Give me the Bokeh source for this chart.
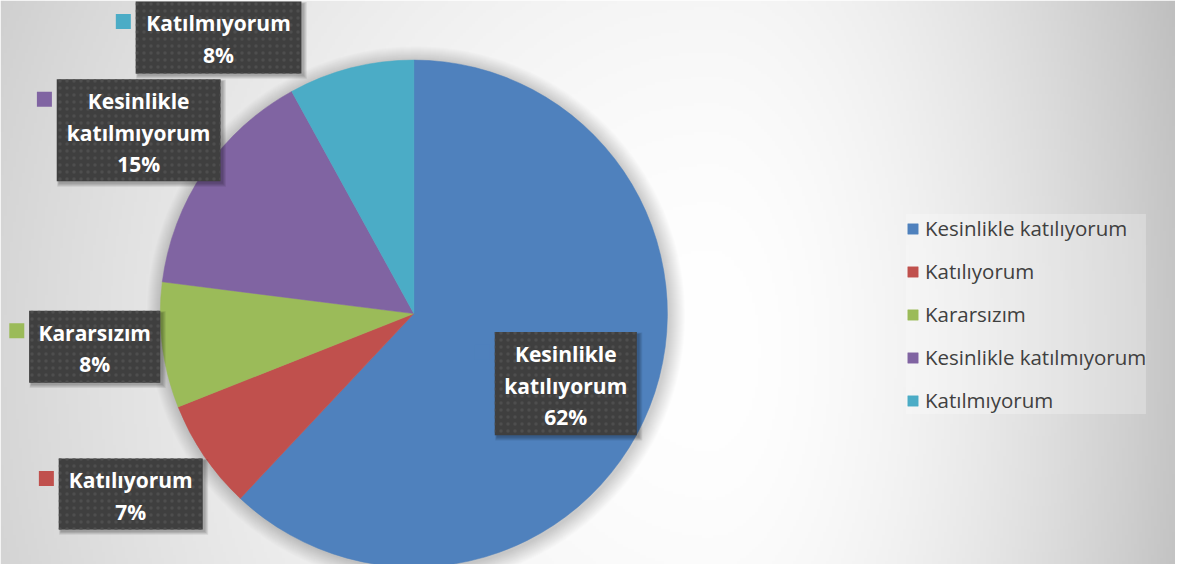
import numpy as np
from bokeh.plotting import figure
from bokeh.models import Range1d, ColumnDataSource, Legend, LegendItem
from bokeh.core.properties import value
from bokeh.embed import file_html
from bokeh.resources import INLINE

# ---------------- data ----------------
categories = ["Kesinlikle katılıyorum", "Katılıyorum", "Kararsızım",
              "Kesinlikle katılmıyorum", "Katılmıyorum"]
percents = [62, 7, 8, 15, 8]
label_first_lines = [["Kesinlikle", "katılıyorum"], ["Katılıyorum"], ["Kararsızım"],
                     ["Kesinlikle", "katılmıyorum"], ["Katılmıyorum"]]

# ---------------- style / layout ----------------
colors = ["#4F81BD", "#C0504D", "#9BBB59", "#8064A2", "#4BACC6"]
W, H = 1175, 564
RW, RH = 1191, 580   # reference-pixel extent
def Y(ry):           # reference y (down) -> data y (up)
    return RH - ry

CX, CY, R = 419, Y(322), 257
# label boxes (left, top, right, bottom) in reference px
boxes = [(501, 341, 645, 447), (59, 471, 205, 544), (29, 319, 162, 393),
         (57, 81, 223, 186), (137, 1, 305, 75)]
LINE_GAP = 32.5
LBL_FONT = "Open Sans"
LEG_FONT = "Open Sans"

p = figure(width=W, height=H, x_range=Range1d(0, RW), y_range=Range1d(0, RH),
           output_backend="svg", toolbar_location=None,
           x_axis_type=None, y_axis_type=None, min_border=0)
p.grid.visible = False
p.outline_line_color = None
p.background_fill_color = "white"
p.border_fill_color = "white"

# ---------------- background radial gradient ----------------
nx, ny = 397, 194
gx = (np.arange(nx) + 0.5) * RW / nx
gy_ref = RH - (np.arange(ny) + 0.5) * RH / ny
GX, GY = np.meshgrid(gx, gy_ref)
dx = GX - 720
ax = np.where(dx < 0, 930.0, 500.0)
rr = np.sqrt((dx / ax) ** 2 + ((GY - 360) / 1050.0) ** 2)
v = (255 - 64 * np.clip(rr, 0, 1.3) ** 1.8).astype(np.uint8)
img = np.empty((ny, nx), dtype=np.uint32)
view = img.view(dtype=np.uint8).reshape((ny, nx, 4))
view[:, :, 0] = v
view[:, :, 1] = v
view[:, :, 2] = v
view[:, :, 3] = 255
p.image_rgba(image=[img], x=0, y=0, dw=RW, dh=RH)

# ---------------- pie shadow ----------------
for k in range(16, 0, -1):
    p.circle(x=[CX + 2], y=[CY - 2], radius=R + k, fill_color="black",
             fill_alpha=0.012, line_color=None)

# ---------------- pie ----------------
fr = np.array(percents, dtype=float) / sum(percents)
cum = np.concatenate([[0], np.cumsum(fr)])
start_cw = np.pi / 2 - 2 * np.pi * cum[:-1]
end_cw = np.pi / 2 - 2 * np.pi * cum[1:]
src = ColumnDataSource(dict(cat=categories, pct=percents, color=colors,
                            start=end_cw, end=start_cw))
wr = p.wedge(x=CX, y=CY, radius=R, start_angle="start", end_angle="end",
             direction="anticlock", fill_color="color", line_color="color",
             line_width=0.5, source=src)

# ---------------- data labels ----------------
bl, br_, bt, bb = [], [], [], []
tx, ty, tt = [], [], []
mx, my, mc = [], [], []
for i, (l, t, r_, b) in enumerate(boxes):
    bl.append(l); br_.append(r_); bt.append(Y(t)); bb.append(Y(b))
    lines = label_first_lines[i] + ["%d%%" % percents[i]]
    for j, s in enumerate(lines):
        tx.append((l + r_) / 2)
        ty.append(Y(t + 22.5 + LINE_GAP * j))
        tt.append(s)
    mx.append(l - 12.5); my.append(Y(t + 20.5)); mc.append(colors[i])

for g in range(4):
    p.quad(left=[l + 2 - g * 0.5 for l in bl], right=[r + 2.5 + g for r in br_],
           top=[t - 2 + g * 0.5 for t in bt], bottom=[b - 2.5 - g for b in bb],
           fill_color="black", fill_alpha=0.08, line_color=None)

p.quad(left=bl, right=br_, top=bt, bottom=bb, fill_color="#3f3f3f",
       line_color=None, hatch_pattern="dot", hatch_color="#4e4e4e",
       hatch_scale=7, hatch_weight=1)
p.text(x=tx, y=ty, text=tt, text_font=value(LBL_FONT), text_font_style="bold",
       text_font_size="21px", text_color="white", text_align="center",
       text_baseline="middle")
p.rect(x=mx, y=my, width=15, height=15, width_units="screen",
       height_units="screen", fill_color=mc, line_color=None)

# ---------------- legend ----------------
items = [LegendItem(label=c, renderers=[wr], index=i) for i, c in enumerate(categories)]
legend = Legend(items=items, location=(906, 150), orientation="vertical",
                label_text_font=LEG_FONT, label_text_font_size="20.5px",
                label_text_color="#404040", glyph_width=13, glyph_height=13,
                label_standoff=6, label_height=28, spacing=15, padding=8,
                margin=0, border_line_color=None,
                background_fill_color="white", background_fill_alpha=0.25)
p.add_layout(legend, "center")

open("out.html", "w").write(file_html(p, INLINE))
